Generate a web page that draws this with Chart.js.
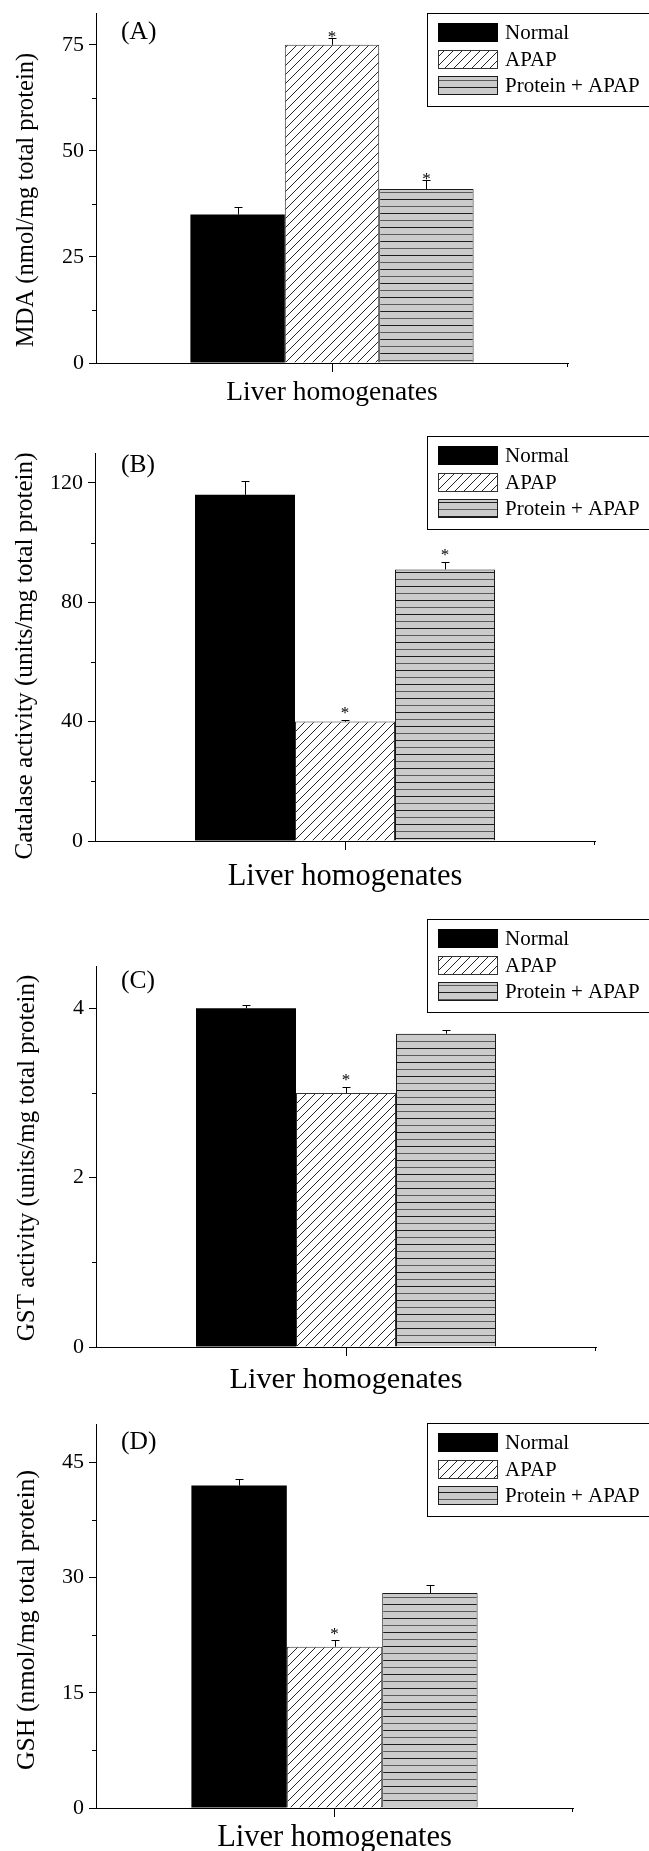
<!DOCTYPE html>
<html>
<head>
<meta charset="utf-8">
<script src="https://cdn.jsdelivr.net/npm/chart.js@4.4.1/dist/chart.umd.min.js"></script>
<style>
  html, body { margin: 0; padding: 0; background: #ffffff; }
  #wrap { position: relative; width: 649px; height: 1851px; overflow: hidden; background: #ffffff; }
  #wrap canvas { position: absolute; left: 0; }
</style>
</head>
<body>
<div id="wrap">
  <canvas id="panelA"></canvas>
  <canvas id="panelB"></canvas>
  <canvas id="panelC"></canvas>
  <canvas id="panelD"></canvas>
</div>
<script>
// ---------------- data ----------------
const categories = ['Liver homogenates'];
const seriesLabels = ['Normal', 'APAP', 'Protein + APAP'];
const panelTags = ['(A)', '(B)', '(C)', '(D)'];
const yTitles = [
  'MDA (nmol/mg total protein)',
  'Catalase activity (units/mg total protein)',
  'GST activity (units/mg total protein)',
  'GSH (nmol/mg total protein)'
];

const mdaValues = [35, 75, 41];
const mdaErrors = [1.8, 1.7, 2.1];
const mdaStars  = [false, true, true];
const mdaTicks  = [0, 25, 50, 75];
const mdaMinor  = [12.5, 37.5, 62.5];
const mdaMax    = 82.5;

const catValues = [116, 40, 91];
const catErrors = [4.5, 0.4, 2.5];
const catStars  = [false, true, true];
const catTicks  = [0, 40, 80, 120];
const catMinor  = [20, 60, 100];
const catMax    = 130;

const gstValues = [4.0, 3.0, 3.7];
const gstErrors = [0.04, 0.07, 0.04];
const gstStars  = [false, true, false];
const gstTicks  = [0, 2, 4];
const gstMinor  = [1, 3];
const gstMax    = 4.5;

const gshValues = [42, 21, 28];
const gshErrors = [0.8, 0.9, 1.0];
const gshStars  = [false, true, false];
const gshTicks  = [0, 15, 30, 45];
const gshMinor  = [7.5, 22.5, 37.5];
const gshMax    = 50;

// ---------------- styling ----------------
const W = 649;
const SERIF = '"Liberation Serif", "Times New Roman", serif';

function hatchPattern() {
  const n = 9;
  const c = document.createElement('canvas');
  c.width = n; c.height = n;
  const g = c.getContext('2d');
  g.fillStyle = '#ffffff'; g.fillRect(0, 0, n, n);
  g.fillStyle = '#262626';
  for (let i = 0; i < n; i++) g.fillRect(i, n - 1 - i, 1, 1);
  return g.createPattern(c, 'repeat');
}
function stripePattern() {
  const c = document.createElement('canvas');
  c.width = 8; c.height = 14;
  const g = c.getContext('2d');
  g.fillStyle = '#cbcbcb'; g.fillRect(0, 0, 8, 14);
  g.fillStyle = '#1e1e1e'; g.fillRect(0, 3, 8, 1);
  g.fillStyle = '#5a5a5a'; g.fillRect(0, 10, 8, 1);
  return g.createPattern(c, 'repeat');
}
const borders = ['#000000', '#333333', '#1a1a1a'];

// ---------------- decorations plugin ----------------
const decor = {
  id: 'decor',
  afterDatasetsDraw(chart, args, opts) {
    const ctx = chart.ctx;
    const y = chart.scales.y;
    ctx.save();
    ctx.strokeStyle = '#000'; ctx.fillStyle = '#000'; ctx.lineWidth = 1;
    chart.data.datasets.forEach((ds, i) => {
      const bar = chart.getDatasetMeta(i).data[0];
      const v = ds.data[0], e = ds.errors[0];
      const x = Math.round(bar.x) + 0.5;
      const yTop = Math.round(y.getPixelForValue(v + e)) + 0.5;
      const yVal = y.getPixelForValue(v);
      ctx.beginPath();
      ctx.moveTo(x, yVal); ctx.lineTo(x, yTop);
      ctx.moveTo(x - 4, yTop); ctx.lineTo(x + 4, yTop);
      ctx.stroke();
      if (ds.starred) {
        ctx.font = '17px ' + SERIF;
        ctx.textAlign = 'center'; ctx.textBaseline = 'alphabetic';
        ctx.fillText('*', bar.x, yTop - opts.starGap + 8);
      }
    });
    ctx.restore();
  },
  afterDraw(chart, args, opts) {
    const ctx = chart.ctx;
    const area = chart.chartArea;
    const y = chart.scales.y;
    ctx.save();
    ctx.strokeStyle = '#000'; ctx.lineWidth = 1;
    // minor ticks on y axis
    ctx.beginPath();
    opts.minor.forEach(v => {
      const py = Math.round(y.getPixelForValue(v)) + 0.5;
      ctx.moveTo(area.left - 4, py); ctx.lineTo(area.left, py);
    });
    // end tick of x axis
    const rx = Math.round(area.right) - 0.5;
    ctx.moveTo(rx, area.bottom); ctx.lineTo(rx, area.bottom + 4);
    ctx.stroke();

    // panel tag
    ctx.fillStyle = '#000';
    ctx.font = '25.5px ' + SERIF;
    ctx.textAlign = 'left'; ctx.textBaseline = 'middle';
    ctx.fillText(opts.tag, 121, opts.tagY);

    // y axis title
    ctx.save();
    ctx.translate(opts.yTitleX, opts.yTitleY);
    ctx.rotate(-Math.PI / 2);
    ctx.font = opts.yTitleSize + 'px ' + SERIF;
    ctx.textAlign = 'center'; ctx.textBaseline = 'middle';
    ctx.fillText(y.options.title.text, 0, 0);
    ctx.restore();

    // legend
    const lt = opts.legendTop + 0.5, lb = opts.legendBottom + 0.5;
    ctx.strokeStyle = '#000';
    ctx.strokeRect(427.5, lt, 260, lb - lt);
    chart.data.datasets.forEach((ds, i) => {
      const sy = Math.round(opts.legendTop + 10 + i * 26.5);
      ctx.fillStyle = ds.backgroundColor;
      ctx.fillRect(438, sy, 60, 19);
      ctx.strokeStyle = ds.borderColor;
      ctx.strokeRect(438.5, sy + 0.5, 59, 18);
      ctx.fillStyle = '#000';
      ctx.font = '21px ' + SERIF;
      ctx.textAlign = 'left'; ctx.textBaseline = 'middle';
      ctx.fillText(ds.label, 505, sy + 10);
    });
    ctx.restore();
  }
};

// ---------------- panels ----------------
const panels = [
  { id: 'panelA', canvasTop: 0, height: 415, L: 96, R: 568, T: 13, B: 363,
    xTitleY: 393, xTitleSize: 27.5, yTitleX: 27, yTitleY: 200, yTitleSize: 24.6,
    legendTop: 13, legendBottom: 106, tagY: 32, starGap: 5,
    values: mdaValues, errors: mdaErrors, stars: mdaStars, ticks: mdaTicks, minor: mdaMinor, max: mdaMax },
  { id: 'panelB', canvasTop: 415, height: 490, L: 95, R: 595, T: 453, B: 841,
    xTitleY: 877, xTitleSize: 30.5, yTitleX: 25, yTitleY: 656, yTitleSize: 25.2,
    legendTop: 436, legendBottom: 529, tagY: 465, starGap: 11,
    values: catValues, errors: catErrors, stars: catStars, ticks: catTicks, minor: catMinor, max: catMax },
  { id: 'panelC', canvasTop: 905, height: 500, L: 96, R: 596, T: 966, B: 1347,
    xTitleY: 1380, xTitleSize: 30.3, yTitleX: 27, yTitleY: 1158, yTitleSize: 25,
    legendTop: 919, legendBottom: 1012, tagY: 981, starGap: 11,
    values: gstValues, errors: gstErrors, stars: gstStars, ticks: gstTicks, minor: gstMinor, max: gstMax },
  { id: 'panelD', canvasTop: 1405, height: 446, L: 96, R: 573, T: 1424, B: 1808,
    xTitleY: 1838, xTitleSize: 30.5, yTitleX: 27, yTitleY: 1620, yTitleSize: 25.8,
    legendTop: 1423, legendBottom: 1516, tagY: 1442, starGap: 10,
    values: gshValues, errors: gshErrors, stars: gshStars, ticks: gshTicks, minor: gshMinor, max: gshMax }
];

panels.forEach((p, k) => {
  const canvas = document.getElementById(p.id);
  canvas.width = W; canvas.height = p.height;
  canvas.style.top = p.canvasTop + 'px';
  canvas.style.width = W + 'px'; canvas.style.height = p.height + 'px';
  const fillSet = ['#000000', hatchPattern(), stripePattern()];
  const off = p.canvasTop;
  const xCenter = p.xTitleY - off;

  new Chart(canvas, {
    type: 'bar',
    data: {
      labels: categories,
      datasets: seriesLabels.map((lab, i) => ({
        label: lab,
        data: [p.values[i]],
        errors: [p.errors[i]],
        starred: p.stars[i],
        backgroundColor: fillSet[i],
        borderColor: borders[i],
        borderWidth: i === 0 ? 0 : 1,
        categoryPercentage: 0.6,
        barPercentage: 1.0
      }))
    },
    options: {
      responsive: false,
      animation: false,
      devicePixelRatio: 1,
      layout: { padding: { left: 0, top: p.T - off, right: W - p.R, bottom: 0 } },
      plugins: {
        legend: { display: false },
        tooltip: { enabled: false },
        decor: {
          tag: panelTags[k], tagY: p.tagY - off,
          minor: p.minor, starGap: p.starGap,
          yTitleX: p.yTitleX, yTitleY: p.yTitleY - off, yTitleSize: p.yTitleSize,
          legendTop: p.legendTop - off, legendBottom: p.legendBottom - off
        }
      },
      scales: {
        x: {
          type: 'category',
          offset: true,
          grid: { display: true, drawOnChartArea: false, offset: false, drawTicks: true,
                  tickLength: 9, tickColor: '#000', tickWidth: 1 },
          border: { display: true, color: '#000', width: 1 },
          ticks: { display: false },
          title: { display: true, text: categories[0], color: '#000',
                   font: { family: SERIF, size: p.xTitleSize, lineHeight: 1 },
                   padding: { top: 0, bottom: p.height - xCenter - p.xTitleSize / 2 } },
          afterFit: s => { s.height = p.height - (p.B - off); s.paddingLeft = 0; s.paddingRight = 0; }
        },
        y: {
          type: 'linear', min: 0, max: p.max,
          afterBuildTicks: s => { s.ticks = p.ticks.map(v => ({ value: v })); },
          ticks: { color: '#000', font: { family: SERIF, size: 22 }, padding: 5,
                   callback: v => String(v) },
          grid: { display: true, drawOnChartArea: false, drawTicks: true,
                  tickLength: 7, tickColor: '#000', tickWidth: 1 },
          border: { display: true, color: '#000', width: 1 },
          title: { display: false, text: yTitles[k] },
          afterFit: s => { s.width = p.L; s.paddingTop = 0; s.paddingBottom = 0; }
        }
      }
    },
    plugins: [decor]
  });
});
</script>
</body>
</html>
